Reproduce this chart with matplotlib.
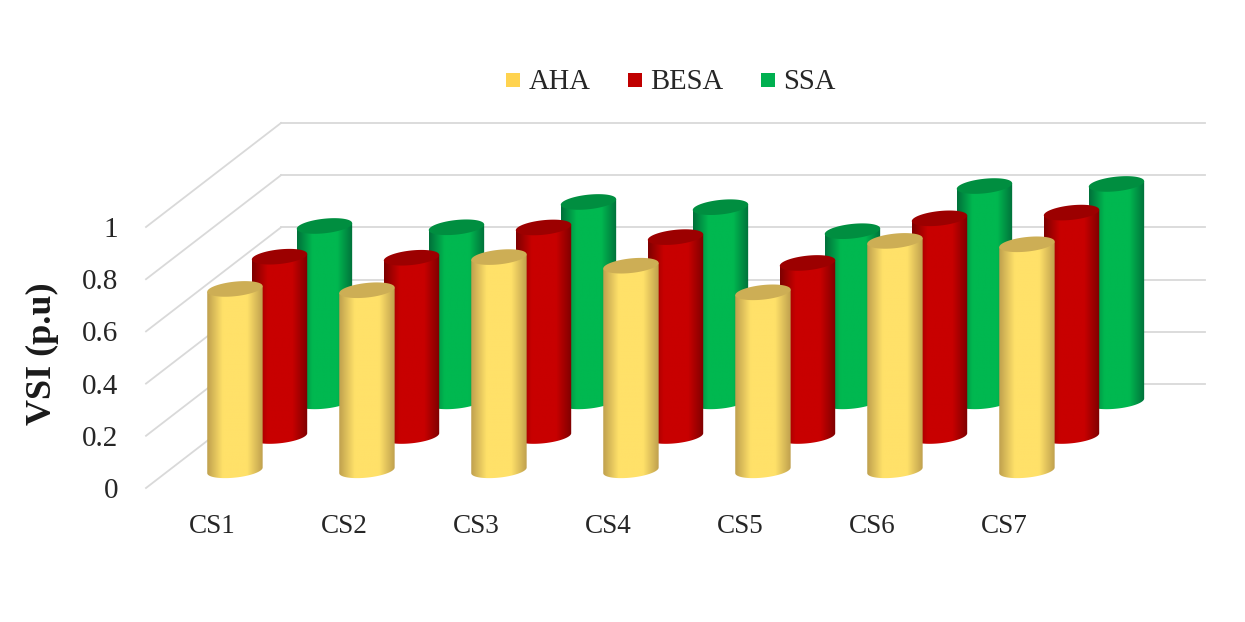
import numpy as np
import matplotlib
matplotlib.use('Agg')
import matplotlib.pyplot as plt
from matplotlib.patches import Patch, PathPatch, Polygon
from matplotlib.path import Path
from matplotlib.colors import to_rgb

categories = ['CS1', 'CS2', 'CS3', 'CS4', 'CS5', 'CS6', 'CS7']
series = ['AHA', 'BESA', 'SSA']
aha = [0.695, 0.69, 0.817, 0.784, 0.682, 0.879, 0.866]
besa = [0.687, 0.683, 0.799, 0.762, 0.663, 0.834, 0.856]
ssa = [0.672, 0.667, 0.764, 0.744, 0.652, 0.825, 0.833]
y_ticks = [0, 0.2, 0.4, 0.6, 0.8, 1]
y_tick_labels = ['0', '0.2', '0.4', '0.6', '0.8', '1']

W, H = 1245, 622
plt.rcParams['font.family'] = ['Liberation Serif', 'DejaVu Serif']

# plot box in pixels: front wall of the fake 3D chart
left_px, right_px, base_px, top_px = 146, 1070, 488, 227
cat_px = (right_px - left_px) / len(categories)
val_px = base_px - top_px

# oblique projection: how far a point moves per unit of depth
depth_dx = 135 / cat_px
depth_dy = 104 / val_px
depths = [0.17, 0.5, 0.833]

# cylinder end caps, in pixels
cap_a, cap_b, cap_tilt = 27.7, 7.3, 2.8

# (edge, middle) body colours and cap colour per series
colors = [('#BFA04E', '#FFE169', '#CDAE55'),
          ('#7E0000', '#C80000', '#9C0000'),
          ('#00703A', '#00B850', '#008E40')]
legend_colors = ['#FFD34F', '#C00000', '#00B050']
grid_color = '#D9D9D9'
text_color = '#262626'

fig = plt.figure(figsize=(W / 100, H / 100), dpi=100, facecolor='white')
ax = fig.add_axes([left_px / W, 1 - base_px / H,
                   (right_px - left_px) / W, (base_px - top_px) / H])
ax.set_xlim(0, len(categories))
ax.set_ylim(0, 1)
for s in ax.spines.values():
    s.set_visible(False)


def shade(c1, c2):
    # dark at both rims, flat bright band in the middle
    t = np.linspace(0, 1, 120)
    k = np.interp(t, [0, 0.28, 0.72, 1], [0, 1, 1, 0])
    a, b = np.array(to_rgb(c1)), np.array(to_rgb(c2))
    return (a + (b - a) * k[:, None])[None, :, :]


def cylinder(x, y, value, colr):
    a = cap_a / cat_px
    tilt = cap_tilt / val_px
    b = cap_b / val_px
    t = np.linspace(np.pi, 2 * np.pi, 50)
    low_x = x + a * np.cos(t)
    low_y = y + tilt * np.cos(t) + b * np.sin(t)
    top = y + value
    xs = np.r_[x - a, x + a, low_x[::-1]]
    ys = np.r_[top - tilt, top + tilt, low_y[::-1]]
    verts = np.c_[xs, ys]
    body = PathPatch(Path(np.vstack([verts, verts[0]]), closed=True),
                     transform=ax.transData)
    im = ax.imshow(shade(colr[0], colr[1]),
                   extent=(x - a, x + a, y - tilt - b, top + tilt + b),
                   aspect='auto', zorder=3, interpolation='bilinear')
    im.set_clip_box(fig.bbox)
    im.set_clip_path(body)
    t = np.linspace(0, 2 * np.pi, 80)
    cap = Polygon(np.c_[x + a * np.cos(t), top + tilt * np.cos(t) + b * np.sin(t)],
                  closed=True, fc=colr[2], ec='none', zorder=3, clip_on=False)
    ax.add_patch(cap)


# gridlines along the side wall and the back wall
for v in y_ticks:
    ax.plot([0, depth_dx], [v, v + depth_dy], color=grid_color, lw=1.3,
            clip_on=False, zorder=1)
    ax.plot([depth_dx, depth_dx + len(categories)], [v + depth_dy, v + depth_dy],
            color=grid_color, lw=1.3, clip_on=False, zorder=1)

# back row first so the front row covers it
for k in [2, 1, 0]:
    vals = [aha, besa, ssa][k]
    for i, v in enumerate(vals):
        cylinder(i + 0.5 + depths[k] * depth_dx, depths[k] * depth_dy, v, colors[k])

ax.set_xlim(0, len(categories))
ax.set_ylim(0, 1)

ax.set_xticks(np.arange(len(categories)) + 0.5)
ax.set_xticklabels(categories)
ax.set_yticks(y_ticks)
ax.set_yticklabels(y_tick_labels)
ax.tick_params(axis='x', length=0, pad=19, labelsize=19.5, labelcolor=text_color)
ax.tick_params(axis='y', length=0, pad=20, labelsize=21, labelcolor=text_color)
fig.text(42 / W, 1 - 354 / H, 'VSI (p.u)', rotation=90, ha='center', va='center',
         fontsize=26, fontweight='bold', color='#1a1a1a')

handles = [Patch(fc=c, ec='none', label=s) for c, s in zip(legend_colors, series)]
leg = fig.legend(handles=handles, loc='center', ncol=3, frameon=False,
                 bbox_to_anchor=(671 / W, 1 - 82 / H), fontsize=20.6,
                 handlelength=0.5, handleheight=0.5, handletextpad=0.27,
                 columnspacing=1.32, labelcolor=text_color)
# square swatches sitting just above the text baseline
for p in leg.get_patches():
    p.set_y(1.4)
    p.set_height(10)
    p.set_width(10)

fig.savefig('out.png', dpi=100)
